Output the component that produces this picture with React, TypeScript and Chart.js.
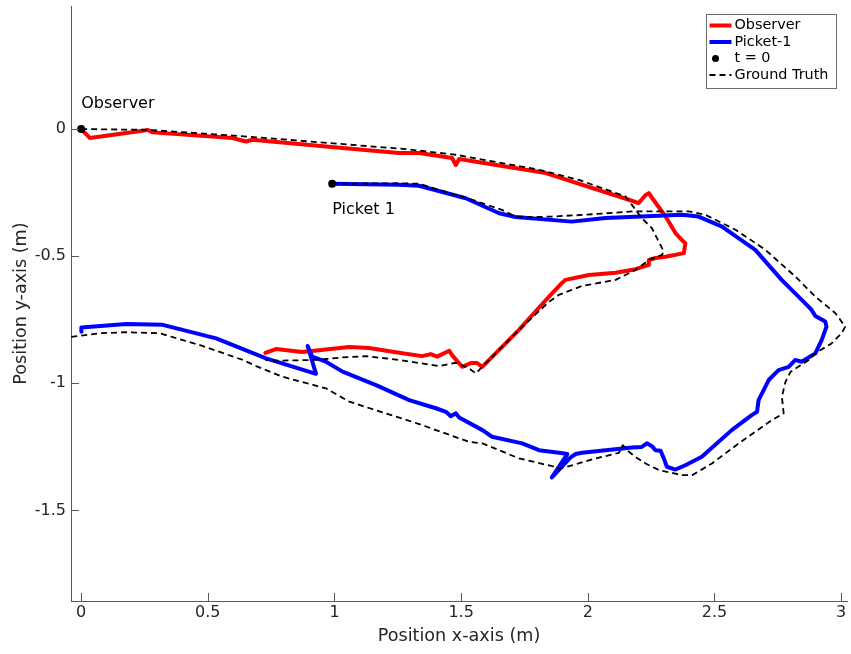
import React, { useEffect, useRef } from 'react';
import { Chart, registerables } from 'chart.js';

Chart.register(...registerables);

const FONT = '"DejaVu Sans", sans-serif';
const AXIS = '#5a5a5a';
const TEXT = '#262626';

const xTicks = [0, 0.5, 1, 1.5, 2, 2.5, 3];
const yTicks = [0, -0.5, -1, -1.5];
const xRange = [-0.04, 3.023];
const yRange = [-1.856, 0.484];

const xTitle = 'Position x-axis (m)';
const yTitle = 'Position y-axis (m)';
const legendLabels = ['Observer', 'Picket-1', 't = 0', 'Ground Truth'];

const observerPath = [
  [0, 0], [0.034, -0.035], [0.25, -0.006], [0.262, -0.003], [0.282, -0.013],
  [0.597, -0.035], [0.651, -0.049], [0.676, -0.042], [0.966, -0.069], [1.255, -0.094],
  [1.334, -0.094], [1.464, -0.114], [1.479, -0.141], [1.492, -0.118], [1.834, -0.173],
  [2.162, -0.278], [2.201, -0.291], [2.228, -0.259], [2.241, -0.252], [2.253, -0.27],
  [2.307, -0.344], [2.346, -0.409], [2.371, -0.436], [2.385, -0.449], [2.379, -0.488],
  [2.307, -0.502], [2.267, -0.507], [2.241, -0.515], [2.241, -0.534], [2.188, -0.551],
  [2.11, -0.565], [2.004, -0.574], [1.912, -0.593], [1.898, -0.605], [1.847, -0.659],
  [1.728, -0.79], [1.583, -0.935], [1.563, -0.92], [1.538, -0.92], [1.504, -0.935],
  [1.464, -0.889], [1.453, -0.872], [1.405, -0.895], [1.38, -0.885], [1.346, -0.893],
  [1.255, -0.88], [1.137, -0.861], [1.058, -0.857], [0.873, -0.877], [0.769, -0.865],
  [0.727, -0.88],
];

const picketPath = [
  [0.991, -0.215], [1.255, -0.219], [1.334, -0.223], [1.518, -0.272], [1.65, -0.331],
  [1.715, -0.346], [1.937, -0.364], [2.07, -0.35], [2.371, -0.337], [2.437, -0.344],
  [2.528, -0.383], [2.661, -0.475], [2.765, -0.593], [2.871, -0.698], [2.883, -0.711],
  [2.898, -0.735], [2.937, -0.757], [2.942, -0.777], [2.923, -0.83], [2.898, -0.882],
  [2.844, -0.915], [2.819, -0.908], [2.793, -0.935], [2.753, -0.948], [2.74, -0.961],
  [2.714, -0.987], [2.674, -1.066], [2.668, -1.112], [2.647, -1.125], [2.568, -1.184],
  [2.45, -1.289], [2.385, -1.322], [2.346, -1.339], [2.312, -1.328], [2.3, -1.295],
  [2.287, -1.265], [2.267, -1.263], [2.253, -1.247], [2.233, -1.236], [2.213, -1.25],
  [2.174, -1.252], [1.977, -1.273], [1.952, -1.278], [1.932, -1.291], [1.858, -1.37],
  [1.919, -1.278], [1.886, -1.273], [1.807, -1.263], [1.741, -1.236], [1.622, -1.21],
  [1.584, -1.184], [1.492, -1.134], [1.479, -1.118], [1.459, -1.129], [1.44, -1.112],
  [1.4, -1.098], [1.295, -1.066], [1.164, -1.007], [1.032, -0.954], [0.968, -0.916],
  [0.912, -0.895], [0.894, -0.853], [0.927, -0.963], [0.73, -0.902], [0.533, -0.823],
  [0.322, -0.77], [0.178, -0.767], [0.001, -0.78], [0.001, -0.797],
];

const observerTruth = [
  [0, 0], [0.262, -0.003], [0.664, -0.03], [1.282, -0.079], [1.479, -0.101],
  [1.807, -0.16], [1.965, -0.2], [2.149, -0.265], [2.174, -0.298], [2.213, -0.35],
  [2.253, -0.39], [2.3, -0.482], [2.292, -0.495], [2.241, -0.515], [2.188, -0.554],
  [2.11, -0.593], [1.977, -0.617], [1.886, -0.652], [1.847, -0.679], [1.728, -0.79],
  [1.583, -0.935], [1.558, -0.961], [1.531, -0.941], [1.479, -0.919], [1.413, -0.932],
  [1.255, -0.908], [1.124, -0.893], [1.032, -0.898], [0.927, -0.908], [0.769, -0.911],
  [0.727, -0.908],
];

const picketTruth = [
  [0.991, -0.215], [1.255, -0.213], [1.334, -0.215], [1.543, -0.278], [1.661, -0.318],
  [1.715, -0.344], [1.78, -0.346], [1.858, -0.344], [1.991, -0.337], [2.174, -0.324],
  [2.398, -0.324], [2.464, -0.337], [2.583, -0.396], [2.701, -0.475], [2.819, -0.58],
  [2.898, -0.659], [2.977, -0.724], [3.016, -0.777], [3.002, -0.803], [2.962, -0.843],
  [2.898, -0.882], [2.871, -0.909], [2.8, -0.955], [2.78, -0.995], [2.766, -1.053],
  [2.773, -1.118], [2.727, -1.144], [2.596, -1.236], [2.49, -1.315], [2.412, -1.361],
  [2.372, -1.361], [2.28, -1.341], [2.228, -1.315], [2.188, -1.289], [2.162, -1.269],
  [2.138, -1.243], [2.123, -1.273], [2.017, -1.299], [1.926, -1.326], [1.886, -1.335],
  [1.86, -1.326], [1.728, -1.295], [1.584, -1.236], [1.531, -1.23], [1.334, -1.16],
  [1.058, -1.072], [0.967, -1.02], [0.795, -0.974], [0.691, -0.932], [0.638, -0.908],
  [0.467, -0.849], [0.309, -0.803], [0.178, -0.799], [0.073, -0.803], [-0.039, -0.817],
  [-0.08, -0.822],
];

const startPoints = [[0, 0], [0.991, -0.215]];
const textLabels = ['Observer', 'Picket 1'];
const textPositions = [[0, 0.1], [0.991, -0.317]];

const toXY = (p: number[][]) => p.map(([x, y]) => ({ x, y }));

export default function App() {
  const ref = useRef<HTMLCanvasElement>(null);

  useEffect(() => {
    const canvas = ref.current;
    if (!canvas) return;

    const overlay = {
      id: 'overlay',
      afterDraw(chart: any) {
        const { ctx, chartArea } = chart;
        const xs = chart.scales.x;
        const ys = chart.scales.y;
        ctx.save();
        // inward tick marks
        ctx.strokeStyle = AXIS;
        ctx.lineWidth = 1;
        ctx.setLineDash([]);
        ctx.beginPath();
        for (const v of xTicks) {
          const px = Math.round(xs.getPixelForValue(v)) + 0.5;
          ctx.moveTo(px, chartArea.bottom);
          ctx.lineTo(px, chartArea.bottom - 8);
        }
        for (const v of yTicks) {
          const py = Math.round(ys.getPixelForValue(v)) + 0.5;
          ctx.moveTo(chartArea.left, py);
          ctx.lineTo(chartArea.left + 8, py);
        }
        ctx.stroke();

        // text annotations
        ctx.fillStyle = '#000';
        ctx.font = `16px ${FONT}`;
        ctx.textAlign = 'left';
        ctx.textBaseline = 'middle';
        textLabels.forEach((t, i) => {
          ctx.fillText(t, xs.getPixelForValue(textPositions[i][0]), ys.getPixelForValue(textPositions[i][1]));
        });

        // legend
        const lx = Math.round(chartArea.right - 141) + 0.5;
        const ly = Math.round(chartArea.top + 8) + 0.5;
        const lw = 130;
        const lh = 74;
        ctx.fillStyle = '#fff';
        ctx.fillRect(lx, ly, lw, lh);
        ctx.strokeStyle = '#6e6e6e';
        ctx.lineWidth = 1;
        ctx.strokeRect(lx, ly, lw, lh);
        const rowY = (i: number) => ly + 11 + i * 16.5;
        const x0 = lx + 3;
        const x1 = lx + 25;
        ctx.lineCap = 'butt';
        ctx.strokeStyle = '#ff0000';
        ctx.lineWidth = 4;
        ctx.beginPath(); ctx.moveTo(x0, rowY(0)); ctx.lineTo(x1, rowY(0)); ctx.stroke();
        ctx.strokeStyle = '#0000ff';
        ctx.beginPath(); ctx.moveTo(x0, rowY(1)); ctx.lineTo(x1, rowY(1)); ctx.stroke();
        ctx.fillStyle = '#000';
        ctx.beginPath(); ctx.arc(lx + 9, rowY(2), 3.5, 0, Math.PI * 2); ctx.fill();
        ctx.strokeStyle = '#000';
        ctx.lineWidth = 1.8;
        ctx.setLineDash([6, 4]);
        ctx.beginPath(); ctx.moveTo(x0, rowY(3)); ctx.lineTo(x1, rowY(3)); ctx.stroke();
        ctx.setLineDash([]);
        ctx.fillStyle = '#000';
        ctx.font = `14.4px ${FONT}`;
        ctx.textBaseline = 'middle';
        legendLabels.forEach((t, i) => ctx.fillText(t, lx + 28, rowY(i)));
        ctx.restore();
      },
    };

    const lineDs = (label: string, pts: number[][], color: string, width: number, dash: number[] = []) => ({
      label,
      data: toXY(pts),
      showLine: true,
      borderColor: color,
      backgroundColor: color,
      borderWidth: width,
      borderDash: dash,
      borderJoinStyle: 'round',
      borderCapStyle: dash.length ? 'butt' : 'round',
      pointRadius: 0,
      pointHoverRadius: 0,
      tension: 0,
      fill: false,
    });

    const chart = new Chart(canvas, {
      type: 'scatter',
      data: {
        datasets: [
          {
            label: legendLabels[2],
            data: toXY(startPoints),
            showLine: false,
            pointRadius: 4,
            pointBackgroundColor: '#000',
            pointBorderColor: '#000',
            pointBorderWidth: 0,
          },
          lineDs(legendLabels[3], observerTruth, '#000', 1.8, [6, 4]),
          lineDs(legendLabels[3], picketTruth, '#000', 1.8, [6, 4]),
          lineDs(legendLabels[1], picketPath, '#0000ff', 4),
          lineDs(legendLabels[0], observerPath, '#ff0000', 4),
        ] as any,
      },
      options: {
        responsive: false,
        animation: false,
        devicePixelRatio: 1,
        layout: { padding: { top: 6, right: 3, left: 0, bottom: 0 } },
        plugins: {
          legend: { display: false },
          tooltip: { enabled: false },
        },
        events: [],
        scales: {
          x: {
            type: 'linear',
            position: 'bottom',
            min: xRange[0],
            max: xRange[1],
            afterBuildTicks: (s: any) => { s.ticks = xTicks.map((v) => ({ value: v })); },
            afterFit: (s: any) => { s.height = 53; s.paddingLeft = 0; s.paddingRight = 0; },
            grid: { display: false, drawTicks: false },
            border: { display: true, color: AXIS, width: 1 },
            ticks: {
              padding: 2,
              color: TEXT,
              autoSkip: false,
              maxRotation: 0,
              font: { family: FONT, size: 16 },
              callback: (v: any) => String(v),
            },
            title: {
              display: true,
              text: xTitle,
              color: TEXT,
              font: { family: FONT, size: 17.6 },
              padding: { top: 0, bottom: 7 },
            },
          },
          y: {
            type: 'linear',
            position: 'left',
            min: yRange[0],
            max: yRange[1],
            afterBuildTicks: (s: any) => { s.ticks = yTicks.map((v) => ({ value: v })); },
            afterFit: (s: any) => { s.width = 71; s.paddingTop = 0; s.paddingBottom = 0; },
            grid: { display: false, drawTicks: false },
            border: { display: true, color: AXIS, width: 1 },
            ticks: {
              padding: 5,
              color: TEXT,
              autoSkip: false,
              font: { family: FONT, size: 16 },
              callback: (v: any) => String(v),
            },
            title: {
              display: true,
              text: yTitle,
              color: TEXT,
              font: { family: FONT, size: 17.6 },
              padding: { top: 11, bottom: 0 },
            },
          },
        },
      } as any,
      plugins: [overlay],
    });

    return () => chart.destroy();
  }, []);

  return (
    <div style={{ position: 'absolute', left: 0, top: 0, width: 851, height: 654, background: '#fff' }}>
      <canvas ref={ref} width={851} height={654} style={{ display: 'block', width: 851, height: 654 }} />
    </div>
  );
}
